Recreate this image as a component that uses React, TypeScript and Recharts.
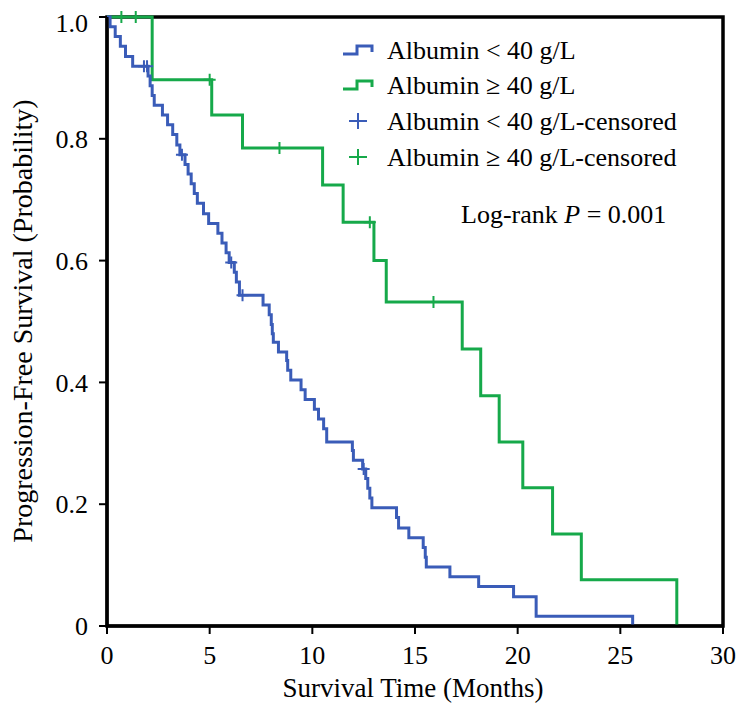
import React from "react";
import {
  ComposedChart,
  Line,
  Scatter,
  XAxis,
  YAxis,
  ReferenceArea,
} from "recharts";

// Albumin < 40 g/L (blue) Kaplan-Meier steps: time of step, survival after step
const blueTimes = [
  0, 0.15, 0.4, 0.65, 0.9, 1.25, 2.0, 2.1, 2.2, 2.3, 2.7, 2.95, 3.2, 3.4, 3.55,
  3.8, 3.95, 4.1, 4.25, 4.4, 4.7, 4.95, 5.4, 5.6, 5.8, 5.95, 6.2, 6.3, 6.45,
  7.6, 7.9, 8.0, 8.05, 8.1, 8.35, 8.75, 8.8, 8.95, 9.45, 9.65, 10.1, 10.3,
  10.55, 10.7, 11.95, 12.0, 12.45, 12.6, 12.7, 12.8, 12.9, 14.1, 14.2, 14.7,
  15.4, 15.5, 15.55, 16.7, 18.1, 19.8, 20.9, 25.6,
];
const blueSurv = [
  1.0, 0.984, 0.968, 0.952, 0.935, 0.919, 0.903, 0.887, 0.871, 0.855, 0.839,
  0.823, 0.807, 0.79, 0.774, 0.758, 0.742, 0.726, 0.71, 0.694, 0.677, 0.661,
  0.645, 0.629, 0.613, 0.597, 0.581, 0.565, 0.543, 0.527, 0.511, 0.495, 0.48,
  0.466, 0.45, 0.436, 0.42, 0.404, 0.388, 0.372, 0.356, 0.34, 0.324, 0.302,
  0.288, 0.272, 0.258, 0.242, 0.226, 0.21, 0.194, 0.178, 0.161, 0.145, 0.129,
  0.113, 0.097, 0.081, 0.065, 0.048, 0.016, 0,
];
const blueCensorTimes = [1.8, 1.95, 3.65, 6.05, 6.6, 12.5];
const blueCensorSurv = [0.919, 0.919, 0.774, 0.597, 0.543, 0.258];

// Albumin >= 40 g/L (green)
const greenTimes = [
  0, 2.2, 5.1, 6.6, 10.5, 11.5, 13.0, 13.6, 17.3, 18.2, 19.1, 20.25, 21.7,
  23.1, 27.75,
];
const greenSurv = [
  1.0, 0.897, 0.839, 0.785, 0.724, 0.663, 0.6, 0.532, 0.455, 0.378, 0.302,
  0.227, 0.151, 0.076, 0,
];
const greenCensorTimes = [0.7, 1.4, 5.0, 8.4, 12.8, 15.9];
const greenCensorSurv = [1.0, 1.0, 0.897, 0.785, 0.663, 0.532];

const xTicks = [0, 5, 10, 15, 20, 25, 30];
const yTicks = [0, 0.2, 0.4, 0.6, 0.8, 1.0];

const legendLabels = [
  "Albumin < 40 g/L",
  "Albumin \u2265 40 g/L",
  "Albumin < 40 g/L-censored",
  "Albumin \u2265 40 g/L-censored",
];

const BLUE = "#3a5cb8";
const GREEN = "#16a94a";
const FONT = "'Liberation Serif', 'Times New Roman', serif";

const zip = (ts: number[], ss: number[]) =>
  ts.map((t, i) => ({ t, s: ss[i] }));

const blueData = zip(blueTimes, blueSurv);
const greenData = zip(greenTimes, greenSurv);
const blueCensor = zip(blueCensorTimes, blueCensorSurv);
const greenCensor = zip(greenCensorTimes, greenCensorSurv);

const plus = (color: string) => (props: any) => {
  const { cx, cy } = props;
  if (cx == null || cy == null) return <g />;
  return (
    <path
      d={`M${cx - 6},${cy}H${cx + 6}M${cx},${cy - 6}V${cy + 6}`}
      stroke={color}
      strokeWidth={2}
      fill="none"
    />
  );
};

const W = 736;
const H = 698;

export default function App() {
  const rowY = [42, 77, 113, 149];
  const legendColors = [BLUE, GREEN, BLUE, GREEN];
  return (
    <div style={{ position: "relative", width: W, height: H }}>
      <ComposedChart
        width={W}
        height={H}
        margin={{ top: 9, right: 21, left: 0, bottom: 0 }}
      >
        <XAxis
          type="number"
          dataKey="t"
          domain={[0, 30]}
          ticks={xTicks}
          allowDataOverflow
          height={80}
          tickSize={8}
          tickMargin={12}
          axisLine={{ stroke: "#000", strokeWidth: 3 }}
          tickLine={{ stroke: "#000", strokeWidth: 2 }}
          tick={{ fill: "#000", fontSize: 26, fontFamily: FONT }}
        />
        <YAxis
          type="number"
          dataKey="s"
          domain={[0, 1]}
          ticks={yTicks}
          width={99}
          tickSize={8}
          tickMargin={11}
          tickFormatter={(v: number) => (v === 0 ? "0" : v.toFixed(1))}
          axisLine={{ stroke: "#000", strokeWidth: 3 }}
          tickLine={{ stroke: "#000", strokeWidth: 2 }}
          tick={{ fill: "#000", fontSize: 26, fontFamily: FONT }}
        />
        <ReferenceArea
          x1={0}
          x2={30}
          y1={0}
          y2={1}
          fill="none"
          stroke="#000"
          strokeWidth={3.5}
          ifOverflow="visible"
        />
        <Line
          data={greenData}
          dataKey="s"
          type="stepAfter"
          stroke={GREEN}
          strokeWidth={3}
          dot={false}
          activeDot={false}
          isAnimationActive={false}
        />
        <Line
          data={blueData}
          dataKey="s"
          type="stepAfter"
          stroke={BLUE}
          strokeWidth={3}
          dot={false}
          activeDot={false}
          isAnimationActive={false}
        />
        <Scatter
          data={blueCensor}
          dataKey="s"
          shape={plus(BLUE)}
          isAnimationActive={false}
        />
        <Scatter
          data={greenCensor}
          dataKey="s"
          shape={plus(GREEN)}
          isAnimationActive={false}
        />
      </ComposedChart>
      <svg
        width={W}
        height={H}
        style={{ position: "absolute", left: 0, top: 0, pointerEvents: "none" }}
      >
        <text
          x={14}
          y={313}
          transform="rotate(-90 14 313)"
          textAnchor="middle"
          dominantBaseline="central"
          fontSize={28}
          fontFamily={FONT}
          fill="#000"
        >
          Progression-Free Survival (Probability)
        </text>
        <text
          x={405}
          y={680}
          textAnchor="middle"
          dominantBaseline="central"
          fontSize={27}
          fontFamily={FONT}
          fill="#000"
        >
          Survival Time (Months)
        </text>
        {legendLabels.map((lab, i) => (
          <g key={lab}>
            {i < 2 ? (
              <path
                d={`M${335},${rowY[i] + 4}H${349}V${rowY[i] - 4}H${364}V${rowY[i] + 2}`}
                stroke={legendColors[i]}
                strokeWidth={3}
                fill="none"
              />
            ) : (
              <path
                d={`M${341},${rowY[i]}H${359}M${350},${rowY[i] - 8}V${rowY[i] + 8}`}
                stroke={legendColors[i]}
                strokeWidth={2}
                fill="none"
              />
            )}
            <text
              x={379}
              y={rowY[i]}
              dominantBaseline="central"
              fontSize={26}
              fontFamily={FONT}
              fill="#000"
            >
              {lab}
            </text>
          </g>
        ))}
        <text
          x={453}
          y={206}
          dominantBaseline="central"
          fontSize={26}
          fontFamily={FONT}
          fill="#000"
        >
          Log-rank <tspan fontStyle="italic">P</tspan> = 0.001
        </text>
      </svg>
    </div>
  );
}
